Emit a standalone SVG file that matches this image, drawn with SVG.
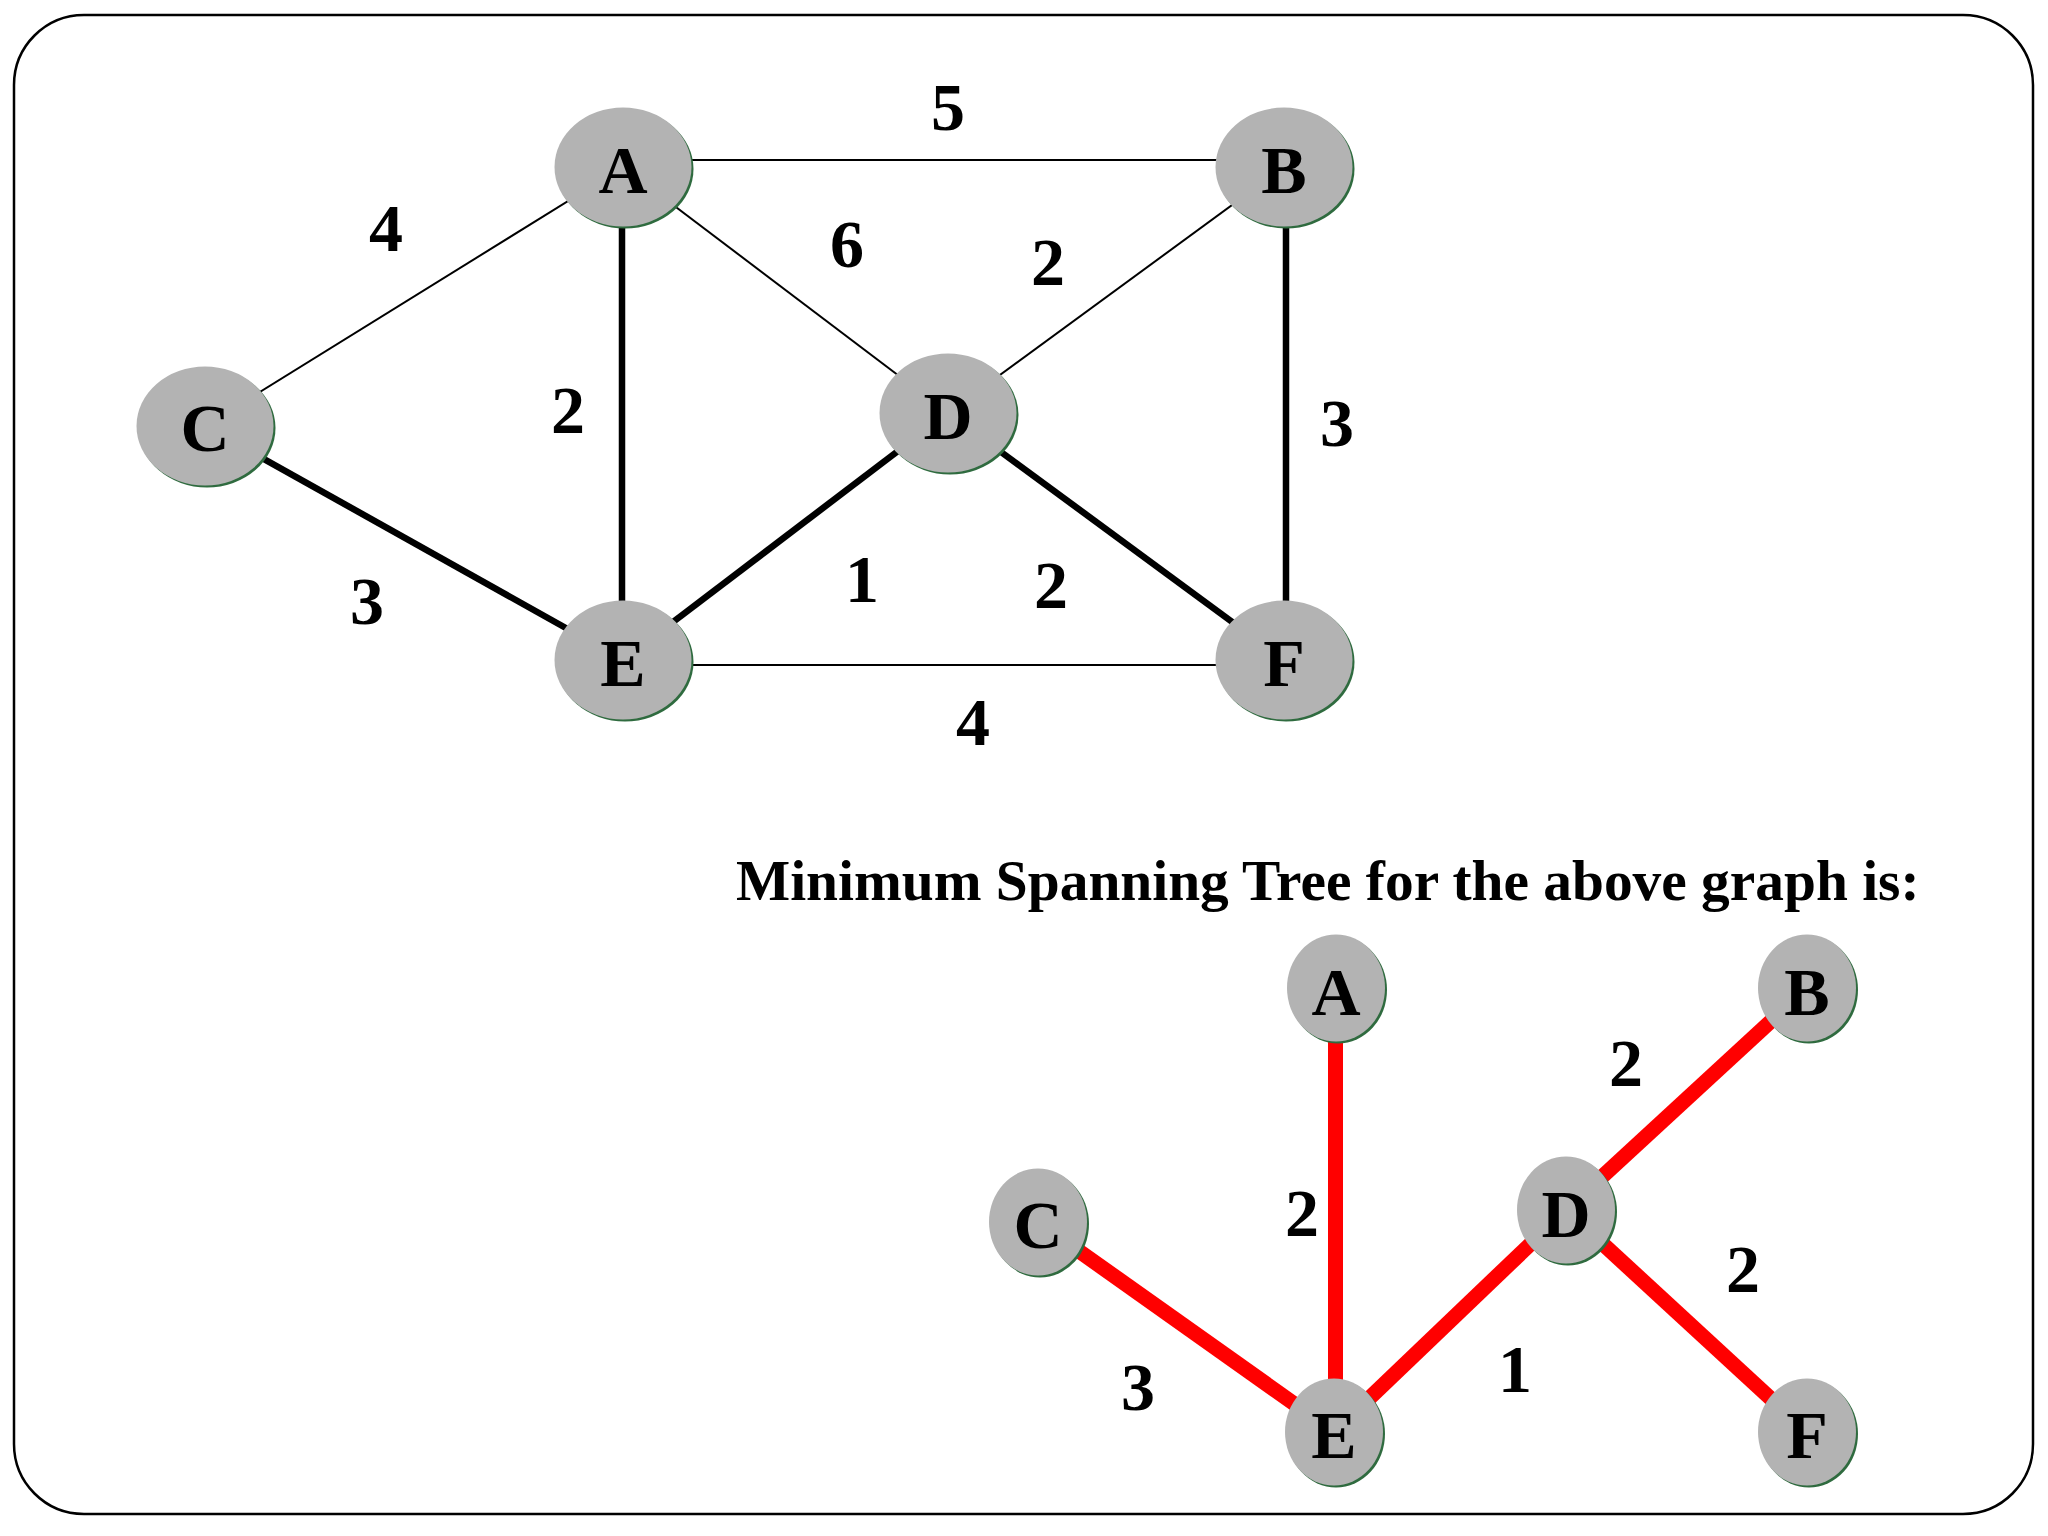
<svg xmlns="http://www.w3.org/2000/svg" width="2048" height="1536" viewBox="0 0 2048 1536">
  <style>
    .frame { fill: #ffffff; stroke: #000000; stroke-width: 2.5; }
    .thin { stroke: #000000; stroke-width: 2; fill: none; }
    .thick { stroke: #000000; stroke-width: 6.5; fill: none; }
    .red { stroke: #ff0000; stroke-width: 15; fill: none; }
    .shade { fill: #2f6b3f; }
    .body { fill: #b3b3b3; }
    .lbl { font-family: "Liberation Serif", "Times New Roman", serif; font-weight: bold; font-size: 68px; fill: #000000; text-anchor: middle; }
    .num { font-family: "Liberation Serif", "Times New Roman", serif; font-weight: bold; font-size: 68px; fill: #000000; text-anchor: middle; }
    .title { font-family: "Liberation Serif", "Times New Roman", serif; font-weight: bold; font-size: 57.4px; fill: #000000; }
  </style>
  <rect class="frame" x="14" y="15" width="2019" height="1499" rx="70" ry="70"/>

  <g id="edges-top">
    <line class="thin" x1="623" y1="160" x2="1284" y2="160"/>
    <line class="thin" x1="623" y1="167" x2="205" y2="426"/>
    <line class="thin" x1="623" y1="167" x2="948" y2="413"/>
    <line class="thin" x1="948" y1="413" x2="1284" y2="167"/>
    <line class="thin" x1="623" y1="665" x2="1284" y2="665"/>
    <line class="thick" x1="622" y1="167" x2="622" y2="660"/>
    <line class="thick" x1="205" y1="426" x2="623" y2="660"/>
    <line class="thick" x1="948" y1="413" x2="623" y2="660"/>
    <line class="thick" x1="948" y1="413" x2="1284" y2="660"/>
    <line class="thick" x1="1286" y1="167" x2="1286" y2="660"/>
  </g>

  <g id="edge-labels-top">
    <text class="num" x="948" y="130">5</text>
    <text class="num" x="386" y="251">4</text>
    <text class="num" x="847" y="267">6</text>
    <text class="num" x="1048" y="285">2</text>
    <text class="num" x="568" y="433">2</text>
    <text class="num" x="1337" y="446">3</text>
    <text class="num" x="367" y="624">3</text>
    <text class="num" x="862" y="602">1</text>
    <text class="num" x="1051" y="608">2</text>
    <text class="num" x="973" y="745">4</text>
  </g>

  <g id="node-top-A">
    <ellipse class="shade" cx="625" cy="169" rx="68.5" ry="59.5"/>
    <ellipse class="body" cx="623" cy="167" rx="68.5" ry="59.5"/>
    <text class="lbl" x="623" y="193">A</text>
  </g>
  <g id="node-top-B">
    <ellipse class="shade" cx="1286" cy="169" rx="68.5" ry="59.5"/>
    <ellipse class="body" cx="1284" cy="167" rx="68.5" ry="59.5"/>
    <text class="lbl" x="1284" y="193">B</text>
  </g>
  <g id="node-top-C">
    <ellipse class="shade" cx="207" cy="428" rx="68.5" ry="59.5"/>
    <ellipse class="body" cx="205" cy="426" rx="68.5" ry="59.5"/>
    <text class="lbl" x="205" y="451">C</text>
  </g>
  <g id="node-top-D">
    <ellipse class="shade" cx="950" cy="415" rx="68.5" ry="59.5"/>
    <ellipse class="body" cx="948" cy="413" rx="68.5" ry="59.5"/>
    <text class="lbl" x="948" y="439">D</text>
  </g>
  <g id="node-top-E">
    <ellipse class="shade" cx="625" cy="662" rx="68.5" ry="59.5"/>
    <ellipse class="body" cx="623" cy="660" rx="68.5" ry="59.5"/>
    <text class="lbl" x="623" y="686">E</text>
  </g>
  <g id="node-top-F">
    <ellipse class="shade" cx="1286" cy="662" rx="68.5" ry="59.5"/>
    <ellipse class="body" cx="1284" cy="660" rx="68.5" ry="59.5"/>
    <text class="lbl" x="1284" y="686">F</text>
  </g>

  <text class="title" x="736" y="900">Minimum Spanning Tree for the above graph is:</text>

  <g id="edges-mst">
    <line class="red" x1="1335.5" y1="988" x2="1335.5" y2="1432"/>
    <line class="red" x1="1038" y1="1222" x2="1334" y2="1432"/>
    <line class="red" x1="1566" y1="1210" x2="1334" y2="1432"/>
    <line class="red" x1="1566" y1="1210" x2="1807" y2="988"/>
    <line class="red" x1="1566" y1="1210" x2="1807" y2="1432"/>
  </g>

  <g id="edge-labels-mst">
    <text class="num" x="1626" y="1086">2</text>
    <text class="num" x="1302" y="1236">2</text>
    <text class="num" x="1743" y="1292">2</text>
    <text class="num" x="1138" y="1410">3</text>
    <text class="num" x="1515" y="1392">1</text>
  </g>

  <g id="node-mst-A">
    <ellipse class="shade" cx="1338" cy="990" rx="49" ry="53.5"/>
    <ellipse class="body" cx="1336" cy="988" rx="49" ry="53.5"/>
    <text class="lbl" x="1336" y="1015">A</text>
  </g>
  <g id="node-mst-B">
    <ellipse class="shade" cx="1809" cy="990" rx="49" ry="53.5"/>
    <ellipse class="body" cx="1807" cy="988" rx="49" ry="53.5"/>
    <text class="lbl" x="1807" y="1015">B</text>
  </g>
  <g id="node-mst-C">
    <ellipse class="shade" cx="1040" cy="1224" rx="49" ry="53.5"/>
    <ellipse class="body" cx="1038" cy="1222" rx="49" ry="53.5"/>
    <text class="lbl" x="1038" y="1248">C</text>
  </g>
  <g id="node-mst-D">
    <ellipse class="shade" cx="1568" cy="1212" rx="49" ry="53.5"/>
    <ellipse class="body" cx="1566" cy="1210" rx="49" ry="53.5"/>
    <text class="lbl" x="1566" y="1237">D</text>
  </g>
  <g id="node-mst-E">
    <ellipse class="shade" cx="1336" cy="1434" rx="49" ry="53.5"/>
    <ellipse class="body" cx="1334" cy="1432" rx="49" ry="53.5"/>
    <text class="lbl" x="1334" y="1458">E</text>
  </g>
  <g id="node-mst-F">
    <ellipse class="shade" cx="1809" cy="1434" rx="49" ry="53.5"/>
    <ellipse class="body" cx="1807" cy="1432" rx="49" ry="53.5"/>
    <text class="lbl" x="1807" y="1458">F</text>
  </g>
</svg>
